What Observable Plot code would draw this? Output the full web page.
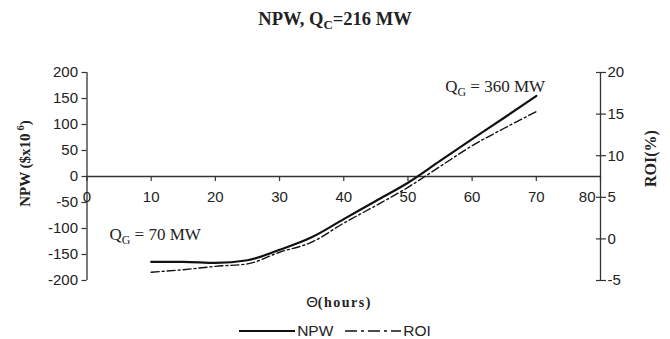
<!DOCTYPE html>
<html>
<head>
<meta charset="utf-8">
<script src="https://cdn.jsdelivr.net/npm/d3@7"></script>
<script src="https://cdn.jsdelivr.net/npm/@observablehq/plot@0.6"></script>
<style>
  body { margin: 0; background: #fff; }
  #wrap { width: 670px; height: 339px; overflow: hidden; color: #222; }
  #title { height: 45px; box-sizing: border-box; padding-top: 10px; text-align: center; font: bold 18.5px "Liberation Serif", serif; line-height: 18px; }
  #title sub { font-size: 70%; vertical-align: -4px; line-height: 0; }
  #xlabel { height: 23px; line-height: 23px; text-align: center; padding-left: 8px; }
  #legend { height: 26px; box-sizing: border-box; padding-top: 10px; text-align: center; font: 15.5px "Liberation Sans", Arial, sans-serif; line-height: 16px; }
  #legend span.item { display: inline-flex; align-items: center; }
  #legend svg { display: block; }
</style>
</head>
<body>
<div id="wrap">
  <div id="title">NPW, Q<sub>C</sub>=216 MW</div>
  <div id="chart"></div>
  <div id="xlabel"><span style="font:15px 'Liberation Sans',Arial,sans-serif">Θ</span><span style="font:bold 14px 'Liberation Serif',serif;letter-spacing:1.5px">(hours)</span></div>
  <div id="legend"></div>
</div>
<script>
// ---- data ----
const theta = [10, 15, 20, 25, 30, 35, 40, 45, 50, 55, 60, 65, 70];
const npw   = [-164, -164, -166, -161, -141, -117, -82, -47, -12, 30, 72, 113, 155];
const roi   = [-4.0, -3.7, -3.3, -3.0, -1.6, -0.4, 1.9, 4.0, 6.2, 8.7, 11.2, 13.3, 15.3];

const xTicks = [0, 10, 20, 30, 40, 50, 60, 70, 80];
const npwTicks = [-200, -150, -100, -50, 0, 50, 100, 150, 200];
const roiTicks = [-5, 0, 5, 10, 15, 20];
const npwDomain = [-200, 200];
const roiDomain = [-5, 20];

const annX = [3.5, 55.8];
const annY = [-112, 173];
const annText = ["Q_G = 70 MW", "Q_G = 360 MW"];

const yLabel = "NPW ($x10^6)";
const y2Label = "ROI(%)";

// map ROI onto NPW scale (secondary axis)
const roiToNpw = r => npwDomain[0] + (r - roiDomain[0]) / (roiDomain[1] - roiDomain[0]) * (npwDomain[1] - npwDomain[0]);
const npwToRoi = v => roiDomain[0] + (v - npwDomain[0]) / (npwDomain[1] - npwDomain[0]) * (roiDomain[1] - roiDomain[0]);

const npwData = theta.map((t, i) => ({theta: t, v: npw[i]}));
const roiData = theta.map((t, i) => ({theta: t, v: roiToNpw(roi[i])}));
const annData = annText.map((t, i) => ({x: annX[i], y: annY[i], label: t}));

const sans = "'Liberation Sans', Arial, sans-serif";
const serif = "'Liberation Serif', 'Times New Roman', serif";
const axisColor = "#333";

const chart = Plot.plot({
  width: 670,
  height: 245,
  marginLeft: 86.5,
  marginRight: 70,
  marginTop: 27,
  marginBottom: 10,
  x: {domain: [0, 80], axis: null},
  y: {domain: npwDomain},
  style: {fontFamily: sans, color: "#222", background: "transparent"},
  marks: [
    Plot.ruleX([0, 80], {stroke: axisColor, strokeWidth: 1.3}),
    Plot.ruleY([0], {stroke: axisColor, strokeWidth: 1.3}),
    Plot.ruleX(xTicks, {x: d => d, y1: 0, y2: 0, insetBottom: -5, stroke: axisColor, strokeWidth: 1.2}),
    Plot.text(xTicks.slice(0, -1), {x: d => d, y: 0, dy: 21, text: d => String(d), fontSize: 15, fontFamily: sans, fill: "#222"}),
    Plot.text(xTicks.slice(-1), {x: d => d, y: 0, dy: 21, dx: -5, textAnchor: "end", text: d => String(d), fontSize: 15, fontFamily: sans, fill: "#222"}),
    Plot.axisY({anchor: "left", ticks: npwTicks, tickSize: 5, tickPadding: 4, tickFormat: d => String(d), label: null, fontSize: 15, fontFamily: sans, stroke: axisColor, fill: "#222", strokeWidth: 1.2}),
    Plot.axisY({anchor: "right", ticks: roiTicks.map(roiToNpw), tickSize: 10, dx: -5, tickPadding: 2, tickFormat: d => String(Math.round(npwToRoi(d))), label: null, fontSize: 15, fontFamily: sans, stroke: axisColor, fill: "#222", strokeWidth: 1.2}),
    Plot.line(roiData, {x: "theta", y: "v", stroke: "#111", strokeWidth: 1.4, strokeDasharray: "8,3,2,3", curve: "monotone-x"}),
    Plot.line(npwData, {x: "theta", y: "v", stroke: "#111", strokeWidth: 2.2, curve: "monotone-x"}),
    Plot.text(annData, {x: "x", y: "y", text: "label", textAnchor: "start", fontSize: 17, fontFamily: serif, fill: "#222"}),
    Plot.text([yLabel], {frameAnchor: "left", textAnchor: "middle", rotate: -90, dx: -62, dy: -13, text: d => d, fontSize: 15, fontWeight: "bold", fontFamily: serif, fill: "#222"}),
    Plot.text([y2Label], {frameAnchor: "right", textAnchor: "middle", rotate: -90, dx: 50, dy: -18, text: d => d, fontSize: 16, fontWeight: "bold", fontFamily: serif, fill: "#222"})
  ]
});

// sub/superscript formatting of "_X" and "^X"
const svgns = "http://www.w3.org/2000/svg";
chart.querySelectorAll("text").forEach(el => {
  const s = el.textContent;
  if (!/[_^]/.test(s) || el.querySelector("tspan")) return;
  const parts = [];
  let buf = "";
  for (let i = 0; i < s.length; i++) {
    const c = s[i];
    if ((c === "_" || c === "^") && i + 1 < s.length) {
      if (buf) parts.push({t: buf, k: 0});
      buf = "";
      parts.push({t: s[i + 1], k: c === "_" ? 1 : -1});
      i++;
    } else buf += c;
  }
  if (buf) parts.push({t: buf, k: 0});
  el.textContent = "";
  let shift = 0;
  for (const p of parts) {
    const ts = document.createElementNS(svgns, "tspan");
    ts.textContent = p.t;
    const target = p.k === 1 ? 4 : p.k === -1 ? -6 : 0;
    if (target !== shift) { ts.setAttribute("dy", target - shift); shift = target; }
    if (p.k) { ts.setAttribute("font-size", "70%"); if (p.k === -1) ts.setAttribute("dx", 3); }
    el.appendChild(ts);
  }
});

document.getElementById("chart").appendChild(chart);

// legend
const legendItems = [
  {name: "NPW", dash: null, w: 2},
  {name: "ROI", dash: "12,4,3,4", w: 1.6}
];
const legend = d3.select("#legend");
legendItems.forEach((it, i) => {
  const item = legend.append("span").attr("class", "item").style("margin-left", i ? "12px" : "0");
  const s = item.append("svg").attr("width", 56).attr("height", 10);
  s.append("line").attr("x1", 0).attr("x2", 56).attr("y1", 5).attr("y2", 5)
    .attr("stroke", "#111").attr("stroke-width", it.w).attr("stroke-dasharray", it.dash);
  item.append("span").style("margin-left", "2px").text(it.name);
});
</script>
</body>
</html>
